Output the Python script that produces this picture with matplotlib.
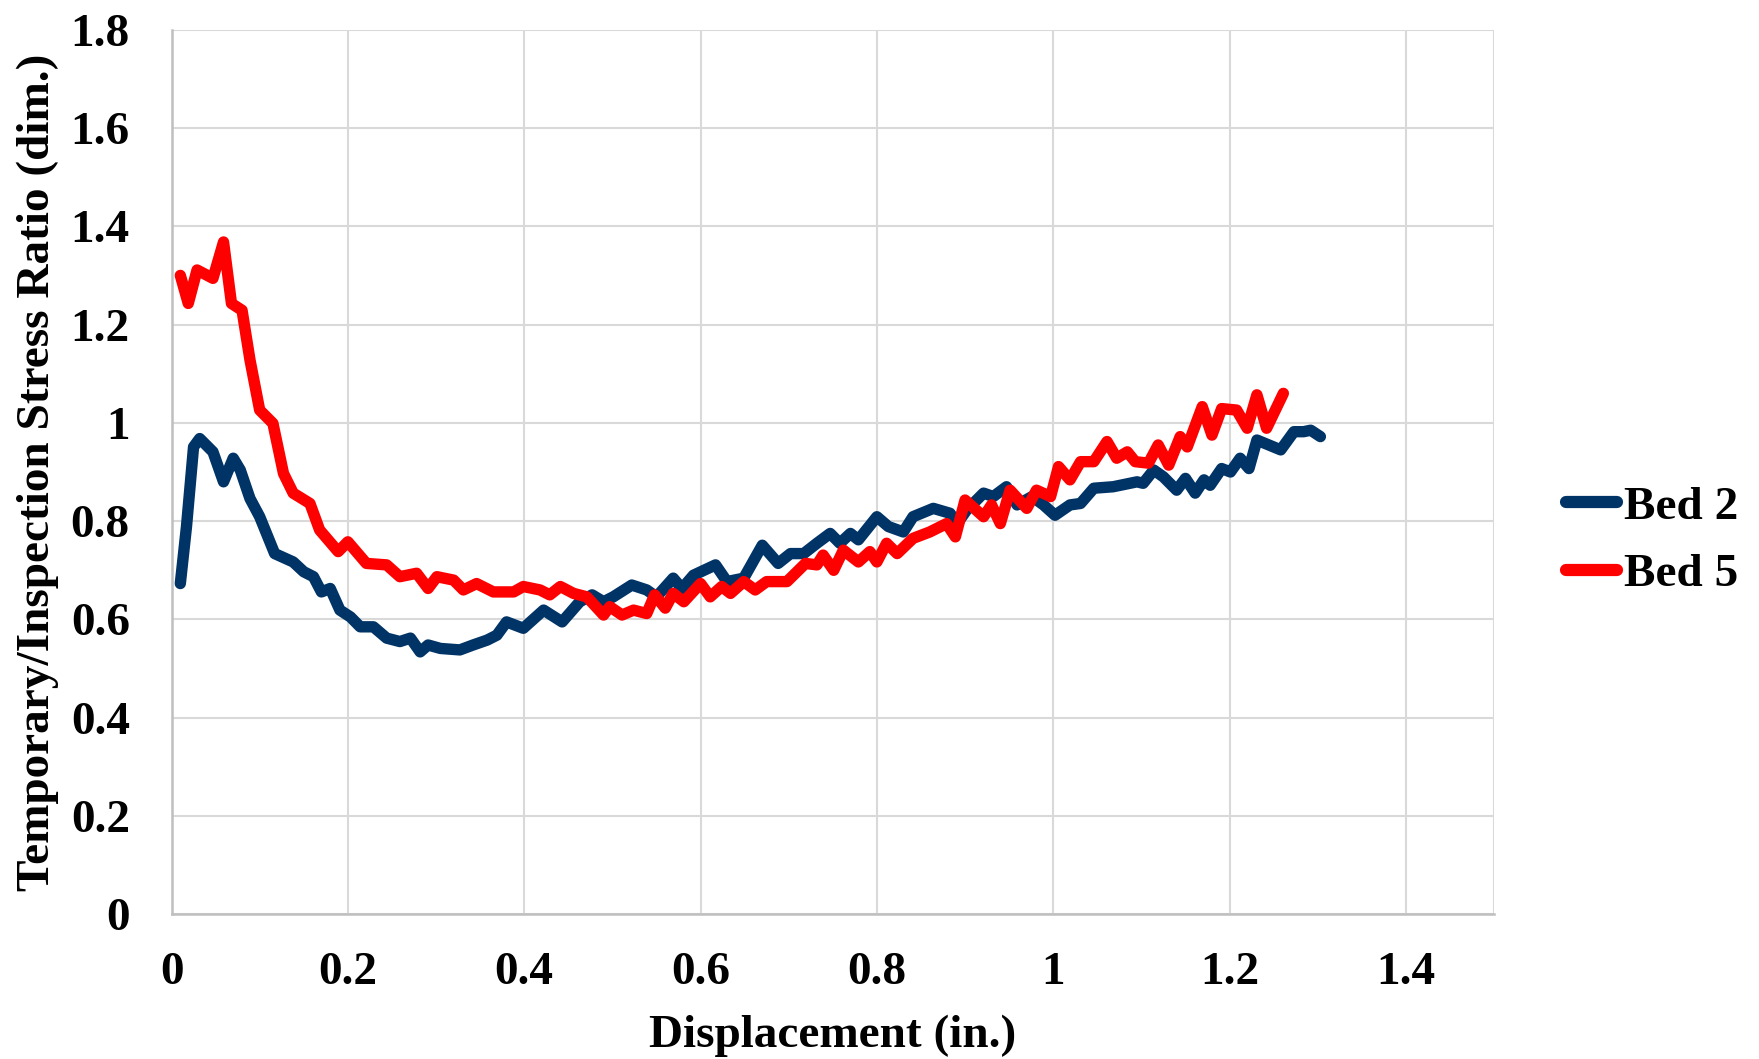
import matplotlib
matplotlib.use("Agg")
import matplotlib.pyplot as plt

# Bed 2 displacement (in.) and stress ratio
bed2_x = [0.010, 0.017, 0.025, 0.032, 0.047, 0.059, 0.070, 0.078, 0.089, 0.100,
          0.117, 0.138, 0.150, 0.161, 0.170, 0.180, 0.191, 0.203, 0.214, 0.229,
          0.244, 0.259, 0.271, 0.282, 0.291, 0.305, 0.327, 0.342, 0.358, 0.369,
          0.380, 0.399, 0.422, 0.443, 0.463, 0.477, 0.490, 0.501, 0.522, 0.539,
          0.550, 0.569, 0.579, 0.592, 0.617, 0.630, 0.649, 0.670, 0.688, 0.702,
          0.717, 0.732, 0.747, 0.758, 0.770, 0.779, 0.800, 0.813, 0.830, 0.841,
          0.864, 0.883, 0.891, 0.902, 0.921, 0.932, 0.947, 0.959, 0.976, 0.989,
          1.002, 1.019, 1.031, 1.046, 1.068, 1.095, 1.102, 1.114, 1.125, 1.140,
          1.150, 1.161, 1.171, 1.178, 1.191, 1.201, 1.212, 1.222, 1.231, 1.258,
          1.273, 1.284, 1.292, 1.303]
bed2_y = [0.673, 0.789, 0.951, 0.968, 0.941, 0.880, 0.928, 0.904, 0.846, 0.809,
          0.734, 0.717, 0.697, 0.687, 0.656, 0.663, 0.619, 0.605, 0.585, 0.585,
          0.562, 0.555, 0.562, 0.534, 0.548, 0.541, 0.538, 0.548, 0.558, 0.568,
          0.595, 0.582, 0.619, 0.595, 0.636, 0.650, 0.636, 0.646, 0.670, 0.660,
          0.646, 0.684, 0.663, 0.690, 0.711, 0.677, 0.684, 0.751, 0.714, 0.734,
          0.734, 0.755, 0.775, 0.755, 0.775, 0.762, 0.809, 0.789, 0.778, 0.809,
          0.826, 0.816, 0.795, 0.823, 0.857, 0.850, 0.870, 0.833, 0.850, 0.833,
          0.812, 0.833, 0.836, 0.867, 0.870, 0.880, 0.877, 0.904, 0.890, 0.863,
          0.887, 0.857, 0.884, 0.873, 0.907, 0.900, 0.928, 0.907, 0.965, 0.945,
          0.982, 0.982, 0.985, 0.972]

# Bed 5 displacement (in.) and stress ratio
bed5_x = [0.010, 0.019, 0.029, 0.047, 0.059, 0.068, 0.080, 0.089, 0.100, 0.115,
          0.127, 0.138, 0.157, 0.168, 0.189, 0.200, 0.221, 0.244, 0.259, 0.278,
          0.291, 0.301, 0.320, 0.331, 0.346, 0.365, 0.388, 0.399, 0.418, 0.429,
          0.441, 0.456, 0.471, 0.490, 0.497, 0.511, 0.524, 0.539, 0.548, 0.560,
          0.569, 0.581, 0.600, 0.611, 0.624, 0.634, 0.649, 0.662, 0.675, 0.698,
          0.719, 0.732, 0.739, 0.751, 0.762, 0.779, 0.792, 0.800, 0.811, 0.823,
          0.841, 0.860, 0.879, 0.889, 0.900, 0.921, 0.930, 0.940, 0.951, 0.970,
          0.981, 0.997, 1.006, 1.019, 1.031, 1.046, 1.061, 1.072, 1.084, 1.093,
          1.108, 1.119, 1.131, 1.144, 1.152, 1.169, 1.180, 1.191, 1.208, 1.220,
          1.231, 1.242, 1.261]
bed5_y = [1.300, 1.243, 1.311, 1.294, 1.368, 1.243, 1.229, 1.128, 1.026, 0.999,
          0.897, 0.857, 0.836, 0.782, 0.738, 0.758, 0.714, 0.711, 0.687, 0.694,
          0.663, 0.687, 0.680, 0.660, 0.673, 0.656, 0.656, 0.667, 0.660, 0.650,
          0.667, 0.653, 0.646, 0.609, 0.626, 0.609, 0.619, 0.612, 0.650, 0.623,
          0.653, 0.636, 0.673, 0.646, 0.667, 0.653, 0.677, 0.660, 0.677, 0.677,
          0.714, 0.711, 0.731, 0.700, 0.741, 0.717, 0.738, 0.717, 0.755, 0.734,
          0.765, 0.778, 0.795, 0.768, 0.843, 0.809, 0.833, 0.795, 0.863, 0.826,
          0.863, 0.850, 0.911, 0.884, 0.921, 0.921, 0.962, 0.928, 0.941, 0.921,
          0.918, 0.955, 0.914, 0.972, 0.951, 1.033, 0.975, 1.029, 1.026, 0.989,
          1.057, 0.989, 1.060]

x_ticks = [0, 0.2, 0.4, 0.6, 0.8, 1.0, 1.2, 1.4]
x_tick_labels = ["0", "0.2", "0.4", "0.6", "0.8", "1", "1.2", "1.4"]
y_ticks = [0, 0.2, 0.4, 0.6, 0.8, 1.0, 1.2, 1.4, 1.6, 1.8]
y_tick_labels = ["0", "0.2", "0.4", "0.6", "0.8", "1", "1.2", "1.4", "1.6", "1.8"]

plt.rcParams["font.family"] = ["Liberation Serif", "DejaVu Serif"]
plt.rcParams["font.weight"] = "bold"

fig = plt.figure(figsize=(17.59, 10.59), dpi=100)
ax = fig.add_axes([0.0975, 0.1366, 0.7519, 0.8354])

line_kw = dict(lw=8.2, solid_capstyle="round", solid_joinstyle="round")
ax.plot(bed2_x, bed2_y, color="#003366", label="Bed 2", **line_kw)
ax.plot(bed5_x, bed5_y, color="#FF0000", label="Bed 5", **line_kw)

ax.set_xlim(0, 1.5)
ax.set_ylim(0, 1.8)
ax.set_xticks(x_ticks)
ax.set_xticklabels(x_tick_labels)
ax.set_yticks(y_ticks)
ax.set_yticklabels(y_tick_labels)

# vertical gridline at the right edge of the plot area
ax.axvline(1.5, color="#D9D9D9", lw=1.5, zorder=0)
ax.grid(True, color="#D9D9D9", lw=1.5, zorder=0)
ax.set_axisbelow(True)

for s in ["top", "right"]:
    ax.spines[s].set_visible(False)
for s in ["left", "bottom"]:
    ax.spines[s].set_color("#BFBFBF")
    ax.spines[s].set_linewidth(1.8)

ax.tick_params(axis="both", length=0, labelsize=34)
ax.tick_params(axis="y", pad=30)
ax.tick_params(axis="x", pad=27)
for lab in ax.get_xticklabels() + ax.get_yticklabels():
    lab.set_fontweight("bold")

ax.set_xlabel("Displacement (in.)", fontsize=34, fontweight="bold", labelpad=15)
ax.set_ylabel("Temporary/Inspection Stress Ratio (dim.)", fontsize=34,
              fontweight="bold", labelpad=8)

leg = fig.legend(loc="center left", bbox_to_anchor=(0.890, 0.489),
                 frameon=False, fontsize=34, handlelength=1.08,
                 handletextpad=0.15, labelspacing=0.52, borderpad=0,
                 borderaxespad=0)
for t in leg.get_texts():
    t.set_fontweight("bold")
for h in leg.get_lines():
    h.set_linewidth(8.8)

fig.savefig("out.png", dpi=100)
